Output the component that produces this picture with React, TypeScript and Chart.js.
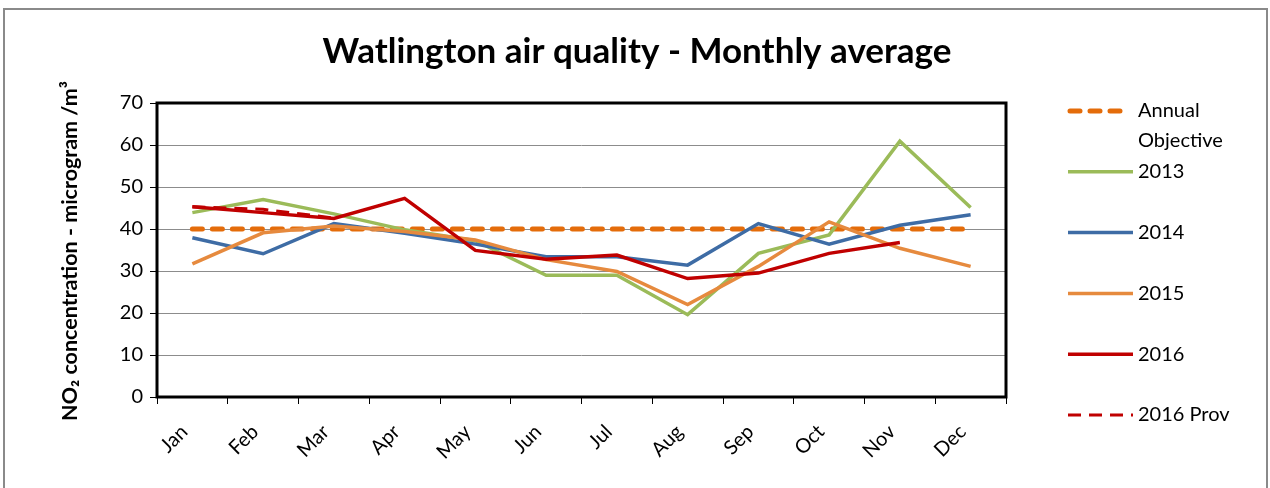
import React, { useEffect, useRef } from 'react';
import { Chart, registerables } from 'chart.js';

Chart.register(...registerables);

const MONTHS = ['Jan', 'Feb', 'Mar', 'Apr', 'May', 'Jun', 'Jul', 'Aug', 'Sep', 'Oct', 'Nov', 'Dec'];
const Y_MIN = 0;
const Y_MAX = 70;
const Y_STEP = 10;

const OBJECTIVE = [40, 40, 40, 40, 40, 40, 40, 40, 40, 40, 40, 40];
const Y2013 = [43.9, 47.0, 43.6, 39.8, 37.2, 29.0, 29.0, 19.6, 34.2, 38.6, 60.9, 45.1];
const Y2014 = [37.9, 34.1, 41.3, 39.0, 36.4, 33.4, 33.4, 31.4, 41.3, 36.4, 40.9, 43.4];
const Y2015 = [31.7, 39.1, 40.7, 39.4, 37.4, 32.7, 29.9, 22.0, 31.1, 41.7, 35.4, 31.1];
const Y2016 = [45.3, 43.9, 42.5, 47.3, 34.9, 32.8, 33.8, 28.2, 29.5, 34.2, 36.8, null];
const Y2016_PROV = [45.3, 44.7, 42.6, null, null, null, null, null, null, null, null, null];

const TITLE = 'Watlington air quality - Monthly average';
const Y_TITLE = 'NO\u2082 concentration - microgram /m\u00B3';

const FONT = 'Lato, "Open Sans", sans-serif';

const decorPlugin = {
  id: 'decor',
  beforeDraw(chart: any) {
    const ctx = chart.ctx;
    ctx.save();
    ctx.fillStyle = '#ffffff';
    ctx.fillRect(0, 0, chart.width, chart.height);
    ctx.strokeStyle = '#8a8a8a';
    ctx.lineWidth = 2;
    ctx.strokeRect(4, 9, 1263, 500);
    ctx.restore();
  },
  afterDraw(chart: any) {
    const ctx = chart.ctx;
    const a = chart.chartArea;
    ctx.save();
    // plot frame
    ctx.strokeStyle = '#000000';
    ctx.lineWidth = 3;
    ctx.strokeRect(a.left, a.top, a.right - a.left, a.bottom - a.top);

    // title
    ctx.fillStyle = '#000000';
    ctx.font = `bold 35px ${FONT}`;
    ctx.textAlign = 'center';
    ctx.textBaseline = 'middle';
    ctx.fillText(TITLE, 637, 52);

    // y title
    ctx.save();
    ctx.translate(70, 251);
    ctx.rotate(-Math.PI / 2);
    ctx.font = `bold 21.5px ${FONT}`;
    ctx.textAlign = 'center';
    ctx.textBaseline = 'middle';
    ctx.fillText(Y_TITLE, 0, 0);
    ctx.restore();

    // legend
    const x0 = 1068;
    const x1 = 1133;
    const tx = 1138;
    let y = 111;
    const step = 60.8;
    ctx.font = `20px ${FONT}`;
    ctx.textAlign = 'left';
    ctx.textBaseline = 'middle';
    chart.data.datasets.forEach((ds: any) => {
      ctx.save();
      ctx.strokeStyle = ds.borderColor;
      ctx.lineWidth = ds.borderWidth;
      const round = ds.borderCapStyle === 'round';
      ctx.lineCap = round ? 'round' : 'butt';
      ctx.setLineDash(ds.borderDash || []);
      ctx.beginPath();
      ctx.moveTo(round ? x0 + 2 : x0, y);
      ctx.lineTo(round ? 1121 : x1, y);
      ctx.stroke();
      ctx.restore();
      const words = String(ds.label).split(' ');
      const lines: string[] = [];
      let cur = '';
      words.forEach((w) => {
        const t = cur ? cur + ' ' + w : w;
        if (ctx.measureText(t).width > 118 && cur) {
          lines.push(cur);
          cur = w;
        } else {
          cur = t;
        }
      });
      if (cur) lines.push(cur);
      lines.forEach((l, i) => ctx.fillText(l, tx, y + i * 30));
      y += step;
    });
    ctx.restore();
  },
};

export default function App() {
  const ref = useRef<HTMLCanvasElement | null>(null);
  useEffect(() => {
    if (!ref.current) return;
    const chart = new Chart(ref.current, {
      type: 'line',
      data: {
        labels: MONTHS,
        datasets: [
          {
            label: 'Annual Objective',
            data: OBJECTIVE,
            borderColor: '#E46C0A',
            borderWidth: 5,
            borderDash: [10, 10],
            borderCapStyle: 'round',
            order: 5,
          },
          { label: '2013', data: Y2013, borderColor: '#9BBB59', borderWidth: 3.5, order: 4 },
          { label: '2014', data: Y2014, borderColor: '#3E6CA5', borderWidth: 3.5, order: 3 },
          { label: '2015', data: Y2015, borderColor: '#E68A3E', borderWidth: 3.5, order: 2 },
          { label: '2016', data: Y2016, borderColor: '#C00000', borderWidth: 3.5, order: 1 },
          {
            label: '2016 Prov',
            data: Y2016_PROV,
            borderColor: '#C00000',
            borderWidth: 3,
            borderDash: [13, 8],
            order: 0,
          },
        ] as any,
      },
      options: {
        responsive: false,
        animation: false,
        events: [],
        elements: { point: { radius: 0 }, line: { tension: 0 } },
        layout: { padding: { left: 0, top: 103, right: 264, bottom: 0 } },
        plugins: { legend: { display: false }, title: { display: false }, tooltip: { enabled: false } },
        scales: {
          x: {
            type: 'category',
            offset: true,
            grid: { offset: true, drawOnChartArea: false, drawTicks: true, tickLength: 7, color: '#000000', tickColor: '#000000' },
            border: { display: false },
            ticks: {
              color: '#000000',
              font: { family: FONT, size: 20 },
              minRotation: 45,
              maxRotation: 45,
              padding: 16,
              labelOffset: -8,
              autoSkip: false,
            },
            afterFit: (s: any) => {
              s.height = 91;
            },
          },
          y: {
            min: Y_MIN,
            max: Y_MAX,
            ticks: { stepSize: Y_STEP, color: '#000000', font: { family: FONT, size: 20 }, padding: 7 },
            grid: { color: '#8c8c8c', lineWidth: 1, tickLength: 7, tickColor: '#000000' },
            border: { display: false },
            afterFit: (s: any) => {
              s.width = 157;
            },
          },
        },
      },
      plugins: [decorPlugin],
    });
    return () => chart.destroy();
  }, []);
  return (
    <div style={{ position: 'absolute', left: 0, top: 0, width: 1270, height: 488 }}>
      <canvas ref={ref} width={1270} height={488} style={{ display: 'block' }} />
    </div>
  );
}
